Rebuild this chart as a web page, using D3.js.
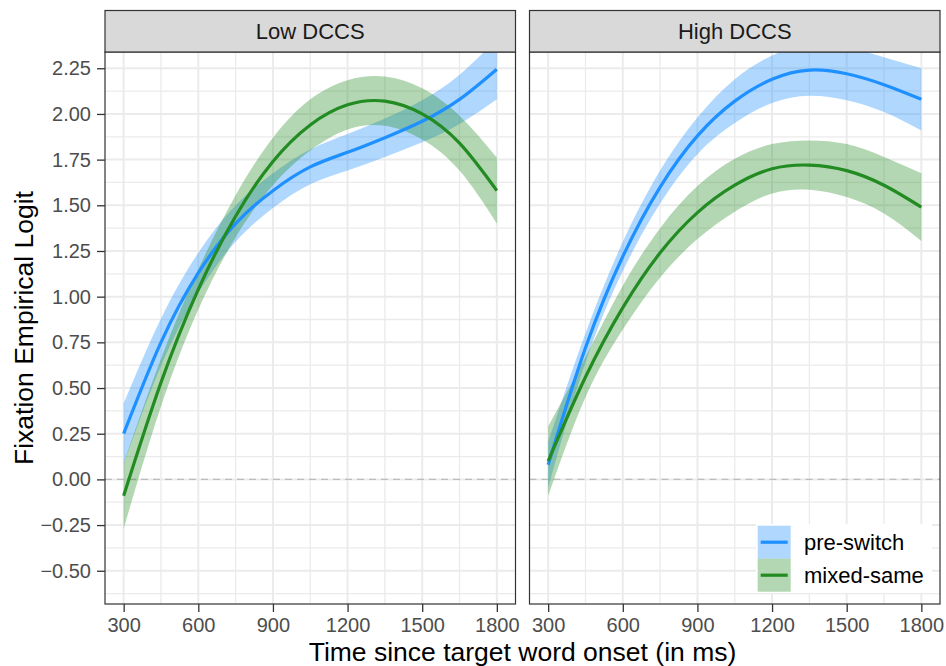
<!DOCTYPE html>
<html><head><meta charset="utf-8">
<script src="https://cdn.jsdelivr.net/npm/d3@7"></script>
<style>body{margin:0;background:#fff}svg{display:block}text{font-family:"Liberation Sans",Arial,sans-serif}</style>
</head><body><svg id="c" width="946" height="666"></svg>
<script>
const times = [300, 450, 600, 750, 900, 1050, 1200, 1350, 1500, 1650, 1800];
const facets = ["Low DCCS", "High DCCS"];
const groups = ["pre-switch", "mixed-same"];
const groupColors = ["#1E90FF", "#228B22"];
const xTicks = [300, 600, 900, 1200, 1500, 1800];
const yTicks = [-0.5, -0.25, 0, 0.25, 0.5, 0.75, 1, 1.25, 1.5, 1.75, 2, 2.25];

// Low DCCS
const lowPreFit = [0.25, 0.75, 1.13, 1.40, 1.58, 1.71, 1.79, 1.87, 1.96, 2.08, 2.245];
const lowPreLo  = [0.085, 0.62, 1.02, 1.30, 1.485, 1.615, 1.69, 1.765, 1.845, 1.945, 2.08];
const lowPreHi  = [0.415, 0.88, 1.24, 1.50, 1.675, 1.805, 1.89, 1.975, 2.075, 2.215, 2.41];
const lowMixFit = [-0.09, 0.53, 1.04, 1.44, 1.74, 1.94, 2.05, 2.07, 2.00, 1.84, 1.58];
const lowMixLo  = [-0.27, 0.40, 0.93, 1.325, 1.61, 1.80, 1.915, 1.935, 1.86, 1.69, 1.40];
const lowMixHi  = [0.09, 0.66, 1.15, 1.555, 1.87, 2.08, 2.185, 2.205, 2.14, 1.99, 1.76];
// High DCCS
const highPreFit = [0.08, 0.72, 1.22, 1.60, 1.88, 2.07, 2.19, 2.24, 2.22, 2.16, 2.08];
const highPreLo  = [-0.045, 0.64, 1.14, 1.51, 1.78, 1.95, 2.06, 2.10, 2.075, 2.01, 1.91];
const highPreHi  = [0.205, 0.80, 1.30, 1.69, 1.98, 2.19, 2.32, 2.38, 2.365, 2.31, 2.25];
const highMixFit = [0.10, 0.56, 0.94, 1.24, 1.46, 1.61, 1.70, 1.72, 1.69, 1.61, 1.49];
const highMixLo  = [-0.09, 0.45, 0.82, 1.105, 1.315, 1.465, 1.565, 1.585, 1.545, 1.455, 1.305];
const highMixHi  = [0.29, 0.67, 1.06, 1.375, 1.605, 1.755, 1.835, 1.855, 1.835, 1.765, 1.675];

const panelData = [
  [{fit: lowPreFit, lo: lowPreLo, hi: lowPreHi}, {fit: lowMixFit, lo: lowMixLo, hi: lowMixHi}],
  [{fit: highPreFit, lo: highPreLo, hi: highPreHi}, {fit: highMixFit, lo: highMixLo, hi: highMixHi}]
];

const svg = d3.select("#c");
const panelTop = 52, panelBottom = 604, stripTop = 10.5;
const panelX = [[105, 515.5], [529.5, 940]];
const y = d3.scaleLinear().domain([-0.682, 2.339]).range([panelBottom, panelTop]);
const yMinor = d3.range(-0.625, 2.4, 0.25).filter(v => v >= -0.682 && v <= 2.339);
const xMinor = [450, 750, 1050, 1350, 1650];
const grid = "#ebebeb", dark = "#333333", tickText = "#4d4d4d";

facets.forEach((f, pi) => {
  const [x0, x1] = panelX[pi];
  const x = d3.scaleLinear().domain([225, 1875]).range([x0, x1]);
  const g = svg.append("g");
  const clipId = "clip" + pi;
  svg.append("clipPath").attr("id", clipId).append("rect")
    .attr("x", x0).attr("y", panelTop).attr("width", x1 - x0).attr("height", panelBottom - panelTop);
  // grid
  g.selectAll(".ymn").data(yMinor).join("line").attr("x1", x0).attr("x2", x1)
    .attr("y1", d => y(d)).attr("y2", d => y(d)).attr("stroke", grid).attr("stroke-width", 1.3);
  g.selectAll(".xmn").data(xMinor).join("line").attr("y1", panelTop).attr("y2", panelBottom)
    .attr("x1", d => x(d)).attr("x2", d => x(d)).attr("stroke", grid).attr("stroke-width", 1.3);
  g.selectAll(".ymj").data(yTicks).join("line").attr("x1", x0).attr("x2", x1)
    .attr("y1", d => y(d)).attr("y2", d => y(d)).attr("stroke", grid).attr("stroke-width", 2);
  g.selectAll(".xmj").data(xTicks).join("line").attr("y1", panelTop).attr("y2", panelBottom)
    .attr("x1", d => x(d)).attr("x2", d => x(d)).attr("stroke", grid).attr("stroke-width", 2);
  // zero line
  g.append("line").attr("x1", x0).attr("x2", x1).attr("y1", y(0)).attr("y2", y(0))
    .attr("stroke", "#bdbdbd").attr("stroke-width", 1.3).attr("stroke-dasharray", "7,5");
  const plot = g.append("g").attr("clip-path", `url(#${clipId})`);
  const curve = d3.curveNatural;
  panelData[pi].forEach((s, gi) => {
    const pts = times.map((t, i) => ({t, fit: s.fit[i], lo: s.lo[i], hi: s.hi[i]}));
    plot.append("path").datum(pts)
      .attr("d", d3.area().x(d => x(d.t)).y0(d => y(d.lo)).y1(d => y(d.hi)).curve(curve))
      .attr("fill", groupColors[gi]).attr("fill-opacity", 0.35);
  });
  panelData[pi].forEach((s, gi) => {
    const pts = times.map((t, i) => ({t, fit: s.fit[i]}));
    plot.append("path").datum(pts)
      .attr("d", d3.line().x(d => x(d.t)).y(d => y(d.fit)).curve(curve))
      .attr("fill", "none").attr("stroke", groupColors[gi]).attr("stroke-width", 3.2);
  });
  // border
  g.append("rect").attr("x", x0).attr("y", panelTop).attr("width", x1 - x0).attr("height", panelBottom - panelTop)
    .attr("fill", "none").attr("stroke", dark).attr("stroke-width", 1.2);
  // strip
  g.append("rect").attr("x", x0).attr("y", stripTop).attr("width", x1 - x0).attr("height", panelTop - stripTop)
    .attr("fill", "#d9d9d9").attr("stroke", dark).attr("stroke-width", 1.2);
  g.append("text").attr("x", (x0 + x1) / 2).attr("y", 39.3).attr("text-anchor", "middle")
    .attr("font-size", 22).attr("fill", "#1a1a1a").text(f);
  // x axis
  const xa = g.append("g").attr("transform", `translate(0,${panelBottom})`)
    .call(d3.axisBottom(x).tickValues(xTicks).tickSize(8).tickPadding(6).tickFormat(d3.format("d")));
  xa.select(".domain").remove();
  xa.selectAll("line").attr("stroke", dark).attr("stroke-width", 1.3);
  xa.selectAll("text").attr("font-size", 20).attr("fill", tickText).attr("font-family", "Liberation Sans, Arial, sans-serif");
  if (pi === 0) {
    const ya = g.append("g").attr("transform", `translate(${x0},0)`)
      .call(d3.axisLeft(y).tickValues(yTicks).tickSize(8).tickPadding(6).tickFormat(d3.format(".2f")));
    ya.select(".domain").remove();
    ya.selectAll("line").attr("stroke", dark).attr("stroke-width", 1.3);
    ya.selectAll("text").attr("font-size", 20).attr("fill", tickText).attr("font-family", "Liberation Sans, Arial, sans-serif");
  }
});

// axis titles
svg.append("text").attr("x", 522.5).attr("y", 661).attr("text-anchor", "middle")
  .attr("font-size", 26.5).attr("fill", "#000").text("Time since target word onset (in ms)");
svg.append("text").attr("transform", `translate(33,328) rotate(-90)`).attr("text-anchor", "middle")
  .attr("font-size", 26.5).attr("fill", "#000").text("Fixation Empirical Logit");

// legend
const leg = svg.append("g");
leg.append("rect").attr("x", 756).attr("y", 524).attr("width", 176).attr("height", 69).attr("fill", "#fff");
groups.forEach((gname, gi) => {
  const ky = 525.7 + gi * 33;
  leg.append("rect").attr("x", 757.7).attr("y", ky).attr("width", 33).attr("height", 33)
    .attr("fill", groupColors[gi]).attr("fill-opacity", 0.35);
  leg.append("line").attr("x1", 760.7).attr("x2", 787.7).attr("y1", ky + 16.5).attr("y2", ky + 16.5)
    .attr("stroke", groupColors[gi]).attr("stroke-width", 3.2);
  leg.append("text").attr("x", 804).attr("y", ky + 16.5).attr("dy", "0.35em")
    .attr("font-size", 22).attr("fill", "#000").text(gname);
});
</script></body></html>
